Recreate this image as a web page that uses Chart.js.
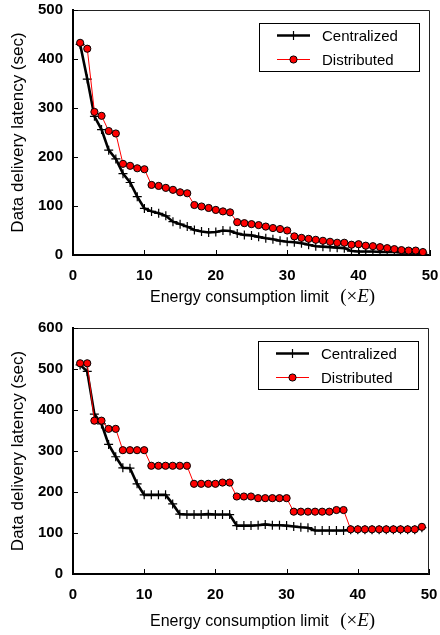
<!DOCTYPE html>
<html>
<head>
<meta charset="utf-8">
<script src="https://cdn.jsdelivr.net/npm/chart.js@4.4.0/dist/chart.umd.min.js"></script>
<style>
body { margin:0; background:#fff; width:440px; height:635px; position:relative; overflow:hidden; font-family:"Liberation Sans", Arial, sans-serif; }
canvas { position:absolute; left:0; }
#chartTop { top:0; }
#chartBottom { top:318px; }
.xtitle { position:absolute; left:150px; font-size:16px; color:#000; white-space:nowrap; line-height:18px; }
.xtitle .unit { font-family:"Liberation Serif", "DejaVu Serif", serif; font-size:19px; margin-left:7px; }
</style>
</head>
<body>
<canvas id="chartTop" width="440" height="312"></canvas>
<canvas id="chartBottom" width="440" height="317"></canvas>
<div class="xtitle" style="top:287px">Energy consumption limit <span class="unit">(×<i>E</i>)</span></div>
<div class="xtitle" style="top:611px">Energy consumption limit <span class="unit">(×<i>E</i>)</span></div>
<script>
// energy consumption limit (x E)
const energyLimits = [1,2,3,4,5,6,7,8,9,10,11,12,13,14,15,16,17,18,19,20,21,22,23,24,25,
  26,27,28,29,30,31,32,33,34,35,36,37,38,39,40,41,42,43,44,45,46,47,48,49];

// upper chart
const topCentralized = [430,359,283,256,214,196,166,148,119,95,89,85,80,68,63,58,51,48,46,47,
  50,49,44,41,40,37,34,32,29,27,26,24,21,18,17,16,15,14,8,7,7,7,6,6,6,5,5,5,4];
const topDistributed = [433,421,292,284,253,248,186,182,177,175,143,141,137,133,128,126,102,99,96,92,
  89,87,67,65,63,61,58,55,53,50,38,35,33,31,29,27,25,25,21,22,19,18,16,14,12,10,9,9,6];

// lower chart
const bottomCentralized = [510,494,390,366,316,286,259,258,220,193,193,193,193,171,146,145,145,145,146,145,
  145,145,118,118,118,119,121,119,119,118,116,114,113,106,106,106,106,106,108,108,108,108,108,108,108,108,108,108,113];
const bottomDistributed = [514,514,374,374,354,354,302,302,302,302,264,264,264,264,264,264,220,220,220,220,
  223,223,189,189,189,185,185,185,185,185,152,152,152,152,152,152,156,156,109,109,109,109,109,109,109,109,109,109,115];

const xTicks = [0,10,20,30,40,50];
const topYTicks = [0,100,200,300,400,500];
const bottomYTicks = [0,100,200,300,400,500,600];
const seriesNames = ['Centralized', 'Distributed'];

const tickFont = { family: '"Liberation Sans", Arial, sans-serif', size: 15, weight: 'bold' };
const labelFont = { family: '"Liberation Sans", Arial, sans-serif', size: 17 };

function toPoints(ys) {
  return energyLimits.map((x, i) => ({ x: x, y: ys[i] }));
}

// box, inner ticks and legend
const decorPlugin = {
  id: 'decor',
  beforeDatasetsDraw(chart) {
    const ctx = chart.ctx;
    const a = chart.chartArea;
    ctx.save();
    ctx.strokeStyle = '#222';
    ctx.lineWidth = 1;
    ctx.beginPath();
    ctx.moveTo(a.left, a.top + 0.5);
    ctx.lineTo(a.right - 0.5, a.top + 0.5);
    ctx.lineTo(a.right - 0.5, a.bottom);
    ctx.stroke();

    ctx.strokeStyle = '#000';
    ctx.lineWidth = 1;
    ctx.beginPath();
    chart.scales.y.ticks.forEach(t => {
      const py = Math.round(chart.scales.y.getPixelForValue(t.value)) + 0.5;
      ctx.moveTo(a.left, py);
      ctx.lineTo(a.left + 5, py);
    });
    chart.scales.x.ticks.forEach(t => {
      const px = Math.round(chart.scales.x.getPixelForValue(t.value)) + 0.5;
      ctx.moveTo(px, a.bottom);
      ctx.lineTo(px, a.bottom - 5);
    });
    ctx.stroke();
    ctx.restore();
  },
  afterDraw(chart) {
    const ctx = chart.ctx;
    const a = chart.chartArea;
    const bx = a.right - 171, by = a.top + 13, bw = 160, bh = 48;
    ctx.save();
    ctx.fillStyle = '#fff';
    ctx.fillRect(bx, by, bw, bh);
    ctx.strokeStyle = '#000';
    ctx.lineWidth = 1;
    ctx.strokeRect(bx + 0.5, by + 0.5, bw, bh);

    const lx1 = bx + 18, lx2 = bx + 51, mid = (lx1 + lx2) / 2;
    const r1 = by + 12.5, r2 = by + 36.5;
    // Centralized
    ctx.strokeStyle = '#000';
    ctx.lineWidth = 2.5;
    ctx.beginPath(); ctx.moveTo(lx1, r1); ctx.lineTo(lx2, r1); ctx.stroke();
    ctx.lineWidth = 1.2;
    ctx.beginPath(); ctx.moveTo(mid, r1 - 4.5); ctx.lineTo(mid, r1 + 4.5); ctx.stroke();
    // Distributed
    ctx.strokeStyle = '#f00';
    ctx.lineWidth = 1;
    ctx.beginPath(); ctx.moveTo(lx1, r2); ctx.lineTo(lx2, r2); ctx.stroke();
    ctx.fillStyle = '#f00';
    ctx.strokeStyle = '#000';
    ctx.beginPath(); ctx.arc(mid, r2, 3.6, 0, Math.PI * 2); ctx.fill(); ctx.stroke();

    ctx.fillStyle = '#000';
    ctx.font = '15px "Liberation Sans", Arial, sans-serif';
    ctx.textBaseline = 'middle';
    ctx.fillText(seriesNames[0], bx + 63, r1 + 1);
    ctx.fillText(seriesNames[1], bx + 63, r2 + 1);
    ctx.restore();
  }
};

function makeChart(id, central, distrib, yMax, yTicks, xHeight, rightPad) {
  new Chart(document.getElementById(id), {
    type: 'line',
    data: {
      datasets: [
        {
          label: seriesNames[0],
          data: toPoints(central),
          borderColor: '#000',
          borderWidth: 2.6,
          pointStyle: 'cross',
          pointRadius: 4.5,
          pointBorderWidth: 1.2,
          pointBorderColor: '#000',
          tension: 0,
          order: 1
        },
        {
          label: seriesNames[1],
          data: toPoints(distrib),
          borderColor: '#f00',
          borderWidth: 1,
          pointStyle: 'circle',
          pointRadius: 3.6,
          pointBorderWidth: 1,
          pointBorderColor: '#000',
          pointBackgroundColor: '#f00',
          tension: 0,
          order: 0
        }
      ]
    },
    options: {
      responsive: false,
      animation: false,
      layout: { padding: { left: 0, right: rightPad, top: 10, bottom: 0 } },
      plugins: { legend: { display: false }, tooltip: { enabled: false } },
      scales: {
        x: {
          type: 'linear',
          min: 0,
          max: 50,
          afterFit: s => { s.height = xHeight; s.paddingLeft = 0; s.paddingRight = 0; },
          afterBuildTicks: s => { s.ticks = xTicks.map(v => ({ value: v })); },
          grid: { display: false, drawTicks: false },
          border: { display: true, color: '#000', width: 2 },
          ticks: { font: tickFont, color: '#000', padding: 12, maxRotation: 0 }
        },
        y: {
          min: 0,
          max: yMax,
          afterFit: s => { s.width = 73; s.paddingTop = 0; s.paddingBottom = 0; },
          afterBuildTicks: s => { s.ticks = yTicks.map(v => ({ value: v })); },
          grid: { display: false, drawTicks: false },
          border: { display: true, color: '#000', width: 2 },
          ticks: { font: tickFont, color: '#000', padding: 10 },
          title: {
            display: true,
            text: 'Data delivery latency (sec)',
            font: labelFont,
            color: '#000',
            padding: { top: 8, bottom: 0 }
          }
        }
      }
    },
    plugins: [decorPlugin]
  });
}

makeChart('chartTop', topCentralized, topDistributed, 500, topYTicks, 57, 10);
makeChart('chartBottom', bottomCentralized, bottomDistributed, 600, bottomYTicks, 61, 11);
</script>
</body>
</html>
